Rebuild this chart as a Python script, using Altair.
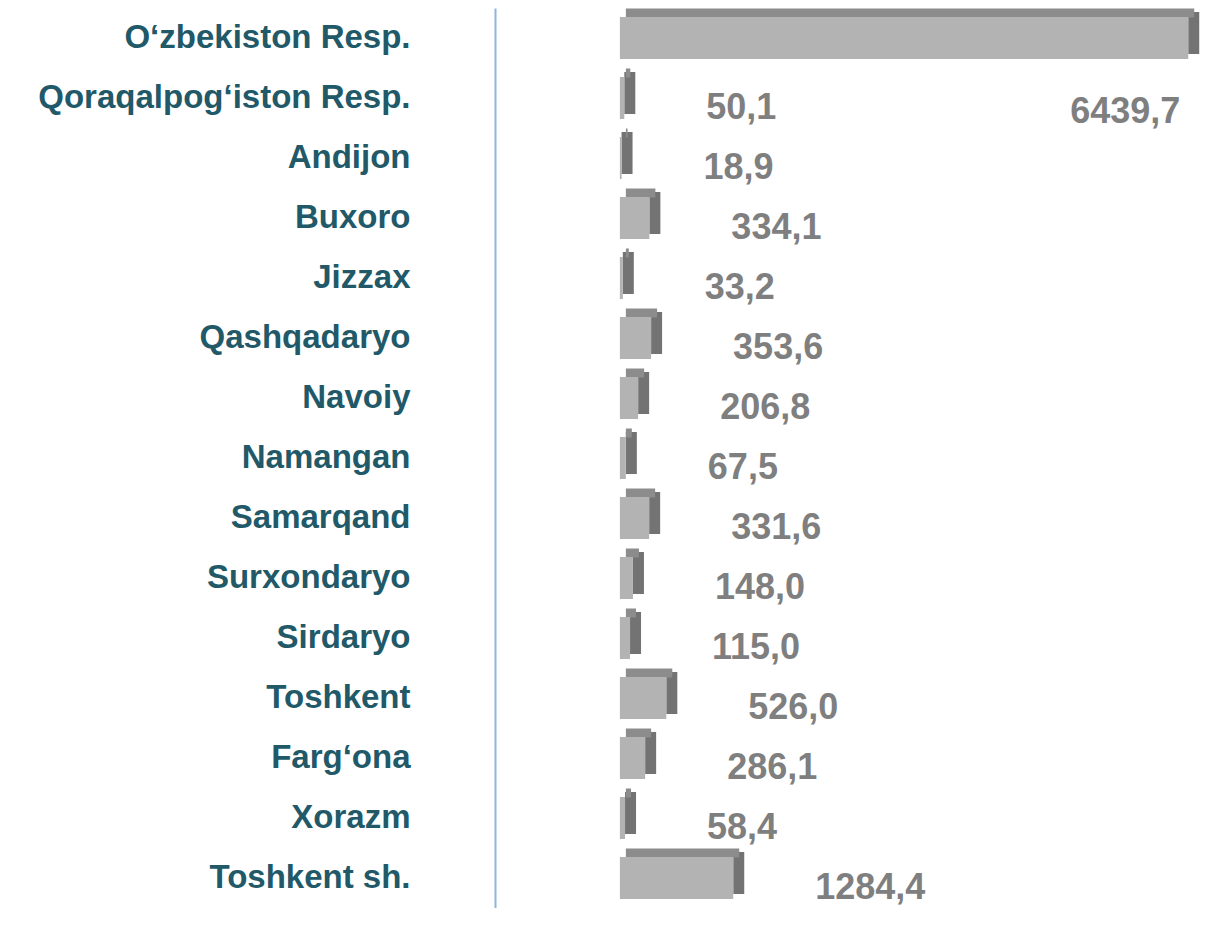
import altair as alt
import pandas as pd

regions = ["O‘zbekiston Resp.", "Qoraqalpog‘iston Resp.", "Andijon", "Buxoro", "Jizzax",
           "Qashqadaryo", "Navoiy", "Namangan", "Samarqand", "Surxondaryo", "Sirdaryo",
           "Toshkent", "Farg‘ona", "Xorazm", "Toshkent sh."]
values = [6439.7, 50.1, 18.9, 334.1, 33.2, 353.6, 206.8, 67.5, 331.6, 148.0, 115.0,
          526.0, 286.1, 58.4, 1284.4]
labels = ["6439,7", "50,1", "18,9", "334,1", "33,2", "353,6", "206,8", "67,5", "331,6",
          "148,0", "115,0", "526,0", "286,1", "58,4", "1284,4"]

df = pd.DataFrame({"region": regions, "value": values, "label": labels,
                   "top": [i == 0 for i in range(len(regions))]})

FONT = "Liberation Sans"
xs = alt.Scale(domain=[-1415, 6440 + 133], nice=False, zero=False)
ys = alt.Scale(domain=regions, paddingInner=0, paddingOuter=0)

base = alt.Chart(df)
yenc = alt.Y("region:N", scale=ys, sort=regions,
             axis=alt.Axis(title=None, ticks=False, labelFontSize=33, labelFont=FONT,
                           labelFontWeight="bold", labelColor="#215968", labelPadding=85,
                           domainColor="#8EB4E3", domainWidth=2, labelLimit=500))

side = base.mark_bar(color="#737373", size=42, yOffset=-5, x2Offset=11).encode(
    x=alt.X("value:Q", scale=xs, axis=None), x2="value:Q", y=yenc)
topf = base.mark_bar(color="#8C8C8C", size=9, yOffset=-25, xOffset=6, x2Offset=6).encode(
    x=alt.X("value:Q", scale=xs, axis=None), y=yenc)
front = base.mark_bar(color="#B3B3B3", size=42).encode(
    x=alt.X("value:Q", scale=xs, axis=None), y=yenc)

txt = base.transform_filter("!datum.top").mark_text(
    align="left", baseline="middle", dx=82, dy=10, font=FONT, fontSize=36,
    fontWeight="bold", color="#7F7F7F").encode(
    x=alt.X("value:Q", scale=xs, axis=None), y=yenc, text="label:N")
txt_top = base.transform_filter("datum.top").mark_text(
    align="right", baseline="middle", dx=-8, dy=74, font=FONT, fontSize=36,
    fontWeight="bold", color="#7F7F7F").encode(
    x=alt.X("value:Q", scale=xs, axis=None), y=yenc, text="label:N")

chart = alt.layer(side, topf, front, txt, txt_top).properties(
    width=705, height=900,
    autosize=alt.AutoSizeParams(type="none"),
    padding={"left": 487, "top": 0, "right": 0, "bottom": 0},
).configure_view(stroke=None)

chart.save("out.html", embed_options={"renderer": "svg", "actions": False})
